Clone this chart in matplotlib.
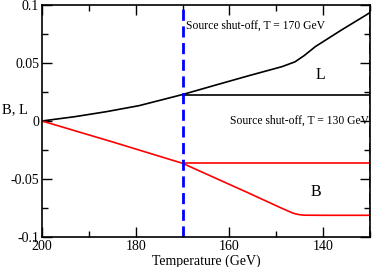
import numpy as np
import matplotlib.pyplot as plt
from matplotlib.ticker import MultipleLocator

plt.rcParams['font.family'] = 'Liberation Serif'

# lepton number L (source on the whole way)
T_L = [200, 193, 186.3, 179.3, 170, 162.9, 155.8, 148.8, 146, 144, 141.7, 136.1, 130.8, 130]
L = [0, 0.0037, 0.0080, 0.0132, 0.0228, 0.0310, 0.0391, 0.0468, 0.0510, 0.0565, 0.0640, 0.0784, 0.0914, 0.0935]
# L after shut-off at T = 170
T_Lcut = [170, 130]
L_cut = [0.0228, 0.0228]

# baryon number B
T_B = [200, 185, 170, 162.9, 155.8, 148.8, 146.8, 146, 145, 144, 140, 130]
B = [0, -0.018, -0.0365, -0.0494, -0.0623, -0.0753, -0.0788, -0.0800, -0.0808, -0.0812, -0.0813, -0.0813]
T_Bcut = [170, 130]
B_cut = [-0.0365, -0.0365]

shutoff = [170, 130]

fig = plt.figure(figsize=(3.74, 2.67), dpi=100)
ax = fig.add_axes([0.1123, 0.1124, 0.877, 0.869])

ax.plot(T_L, L, color='black', lw=1.2)
ax.plot(T_Lcut, L_cut, color='black', lw=1.2)
ax.plot(T_B, B, color='red', lw=1.2)
ax.plot(T_Bcut, B_cut, color='red', lw=1.2)
for t in shutoff:
    ax.axvline(t, color='blue', lw=2, ls=(0, (4, 2)))

ax.set_xlim(200, 130)
ax.set_ylim(-0.1, 0.1)
ax.xaxis.set_minor_locator(MultipleLocator(10))
ax.yaxis.set_minor_locator(MultipleLocator(0.025))
ax.set_xticks([200, 180, 160, 140])
ax.set_xticklabels(['200', '180', '160', '140'])
ax.set_yticks([-0.1, -0.05, 0, 0.05, 0.1])
ax.set_yticklabels(['-0.1', '-0.05', '0', '0.05', '0.1'])
ax.tick_params(which='both', direction='in', top=True, right=True, labelsize=10, pad=2)
ax.tick_params(which='major', length=7, width=1)
ax.tick_params(which='minor', length=4, width=1)
for s in ax.spines.values():
    s.set_linewidth(1.2)

ax.set_xlabel('Temperature (GeV)', fontsize=10, labelpad=1)
ax.set_ylabel('B, L', fontsize=10.5, rotation=0, ha='center', va='center')
ax.yaxis.set_label_coords(-0.081, 0.55)

ax.text(169.2, 0.082, 'Source shut-off, T = 170 GeV', fontsize=8.4, va='center')
ax.text(130.2, 0.0, 'Source shut-off, T = 130 GeV', fontsize=8.4, va='center', ha='right')
ax.text(140.5, 0.0397, 'L', fontsize=11.5, ha='center', va='center')
ax.text(141.6, -0.061, 'B', fontsize=11.5, ha='center', va='center')

fig.savefig('out.png', dpi=100)
